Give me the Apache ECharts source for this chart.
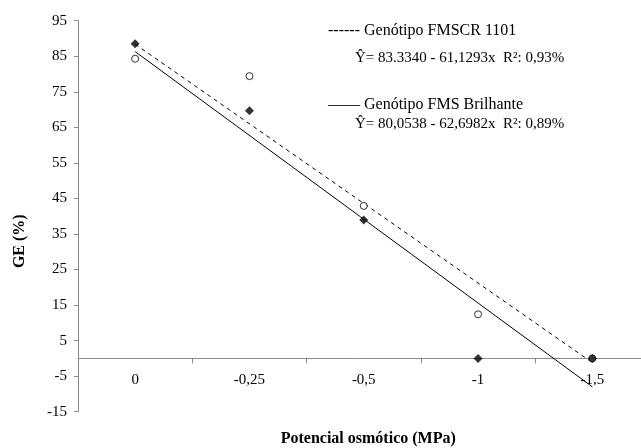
<!DOCTYPE html>
<html>
<head>
<meta charset="utf-8">
<script src="https://cdn.jsdelivr.net/npm/echarts@6/dist/echarts.min.js"></script>
<style>
  html, body { margin: 0; padding: 0; background: #ffffff; }
  #chart { width: 641px; height: 448px; }
</style>
</head>
<body>
<div id="chart"></div>
<script>
// ---- data ----
var categories = ['0', '-0,25', '-0,5', '-1', '-1,5'];
var fmscr1101 = [84.3, 79.4, 42.9, 12.4, 0];      // open markers
var fmsBrilhante = [88.5, 69.7, 38.9, 0, 0];     // filled markers
var trendFmscr = [88.4, -1.2];                   // dashed trendline, at first and last category
var trendBrilhante = [86.3, -8.0];               // solid trendline, at first and last category
var yTicks = { min: -15, max: 95, step: 10 };
var legendTexts = [
  '------ Genótipo FMSCR 1101',
  'Ŷ= 83.3340 - 61,1293x  R²: 0,93%',
  '—— Genótipo FMS Brilhante',
  'Ŷ= 80,0538 - 62,6982x  R²: 0,89%'
];
var xTitle = 'Potencial osmótico (MPa)';
var yTitle = 'GE (%)';

var serif = "'Liberation Serif', 'Times New Roman', 'DejaVu Serif', serif";
var axisGray = '#8a8a8a';

var gridTop = 20.7, gridBottom = 36.3, chartH = 448;
var plotH = chartH - gridTop - gridBottom;
// distance of the value 0 above the bottom of the plot, so the category axis sits on y = 0
var zeroOffset = plotH * (0 - yTicks.min) / (yTicks.max - yTicks.min);

var chart = echarts.init(document.getElementById('chart'), null, { renderer: 'canvas' });

var lastIdx = categories.length - 1;

chart.setOption({
  backgroundColor: '#ffffff',
  animation: false,
  grid: { left: 78, right: -8.5, top: gridTop, bottom: gridBottom, containLabel: false, outerBoundsMode: 'none' },
  xAxis: {
    type: 'category',
    data: categories,
    boundaryGap: true,
    position: 'bottom',
    offset: -zeroOffset,
    name: xTitle,
    nameLocation: 'middle',
    nameGap: 72,
    nameTextStyle: { fontFamily: serif, fontSize: 16, fontWeight: 'bold', color: '#000', padding: [0, 0, 0, 9] },
    axisLine: { show: true, onZero: false, lineStyle: { color: axisGray, width: 1 } },
    axisTick: { show: true, length: 5, inside: false, lineStyle: { color: axisGray } },
    axisLabel: { fontFamily: serif, fontSize: 15, color: '#000', margin: 14 },
    splitLine: { show: false }
  },
  yAxis: {
    type: 'value',
    min: yTicks.min,
    max: yTicks.max,
    interval: yTicks.step,
    name: yTitle,
    nameLocation: 'middle',
    nameRotate: 90,
    nameGap: 50,
    nameTextStyle: { fontFamily: serif, fontSize: 16, fontWeight: 'bold', color: '#000', padding: [0, 50, 0, 0] },
    axisLine: { show: true, lineStyle: { color: axisGray, width: 1 } },
    axisTick: { show: true, length: 4, lineStyle: { color: axisGray } },
    axisLabel: { fontFamily: serif, fontSize: 15, color: '#000', margin: 11 },
    splitLine: { show: false }
  },
  graphic: [
    { type: 'text', left: 328, top: 23, style: { text: legendTexts[0], font: '16px ' + serif, fill: '#000' } },
    { type: 'text', left: 355, top: 51, style: { text: legendTexts[1], font: '15px ' + serif, fill: '#000' } },
    { type: 'text', left: 328, top: 97, style: { text: legendTexts[2], font: '16px ' + serif, fill: '#000' } },
    { type: 'text', left: 355, top: 117, style: { text: legendTexts[3], font: '15px ' + serif, fill: '#000' } }
  ],
  series: [
    {
      name: 'Tendência FMSCR 1101',
      type: 'line',
      data: [[0, trendFmscr[0]], [lastIdx, trendFmscr[1]]],
      symbol: 'none',
      silent: true,
      lineStyle: { color: '#000', width: 1, type: [4, 4] },
      z: 2
    },
    {
      name: 'Tendência FMS Brilhante',
      type: 'line',
      data: [[0, trendBrilhante[0]], [lastIdx, trendBrilhante[1]]],
      symbol: 'none',
      silent: true,
      lineStyle: { color: '#000', width: 1 },
      z: 2
    },
    {
      name: 'Genótipo FMSCR 1101',
      type: 'scatter',
      data: fmscr1101,
      symbol: 'circle',
      symbolSize: 7,
      itemStyle: { color: '#fff', borderColor: '#000', borderWidth: 1 },
      z: 3
    },
    {
      name: 'Genótipo FMS Brilhante',
      type: 'scatter',
      data: fmsBrilhante,
      symbol: 'diamond',
      symbolSize: 9,
      itemStyle: { color: '#000' },
      z: 4
    }
  ]
});
</script>
</body>
</html>
